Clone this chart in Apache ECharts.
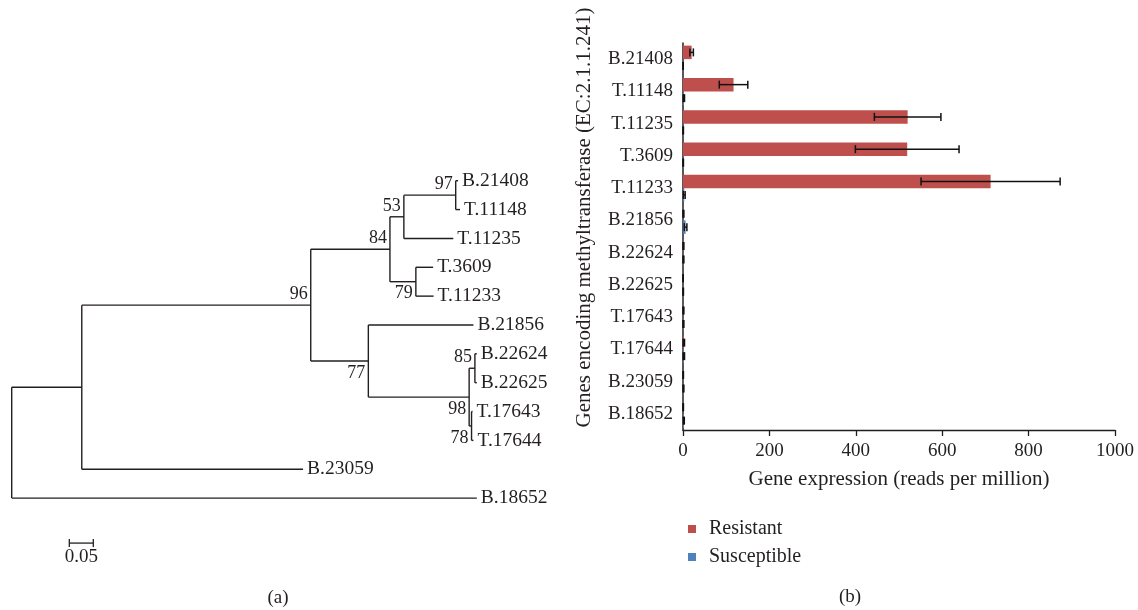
<!DOCTYPE html>
<html><head><meta charset="utf-8">
<script src="https://cdn.jsdelivr.net/npm/echarts@6/dist/echarts.min.js"></script>
<style>html,body{margin:0;padding:0;background:#fff}#c{width:1138px;height:610px}</style>
</head><body><div id="c"></div>
<script>
// ---------- DATA ----------
// (b) bar chart
const genes = ['B.21408','T.11148','T.11235','T.3609','T.11233','B.21856','B.22624','B.22625','T.17643','T.17644','B.23059','B.18652'];
const resistantMean = [20, 117, 520, 519, 712, 1, 1, 0.3, 1, 2, 0.5, 0.5];
const resistantErr  = [4, 33, 77, 120, 161, 1, 1, 0.3, 1, 1.5, 0.5, 0.5];
const susceptibleMean = [0.3, 2, 0.5, 0.5, 3, 6, 1, 0.5, 1, 2, 1, 2];
const susceptibleErr  = [0.3, 1.5, 0.5, 0.5, 2, 3, 1, 0.5, 1, 1.5, 1, 1];
const xTicks = [0, 200, 400, 600, 800, 1000];
const seriesNames = ['Resistant', 'Susceptible'];

// (a) phylogenetic tree, nodes in preorder
const nodeName   = ['root','n1','n96','n84','n53','n97','B.21408','T.11148','T.11235','n79','T.3609','T.11233','n77','B.21856','n98','n85','B.22624','B.22625','n78','T.17643','T.17644','B.23059','B.18652'];
const nodeParent = [-1, 0, 1, 2, 3, 4, 5, 5, 4, 3, 9, 9, 2, 12, 12, 14, 15, 15, 14, 18, 18, 1, 0];
const nodeBranch = [0, 0.146, 0.477, 0.165, 0.029, 0.108, 0.005, 0.009, 0.103, 0.054, 0.036, 0.037, 0.120, 0.219, 0.210, 0.012, 0.004, 0.004, 0.005, 0.002, 0.004, 0.461, 0.969];
const nodeSupport = [null, null, 96, 84, 53, 97, null, null, null, 79, null, null, 77, null, 98, 85, null, null, 78, null, null, null, null];
const scaleBarLength = 0.05;
const scaleBarLabel = '0.05';

// ---------- derived tree geometry ----------
const n = nodeName.length;
const children = nodeName.map(() => []);
nodeParent.forEach((p, i) => { if (p >= 0) children[p].push(i); });
const nodeX = new Array(n).fill(0);
for (let i = 0; i < n; i++) nodeX[i] = (nodeParent[i] >= 0 ? nodeX[nodeParent[i]] : 0) + nodeBranch[i];
const nodeY = new Array(n).fill(0);
let leafCounter = 0;
for (let i = 0; i < n; i++) if (children[i].length === 0) nodeY[i] = leafCounter++;
for (let i = n - 1; i >= 0; i--) {
  const c = children[i];
  if (c.length) nodeY[i] = (nodeY[c[0]] + nodeY[c[c.length - 1]]) / 2;
}
const treeData = nodeName.map((nm, i) => {
  const c = children[i];
  return [nodeX[i], nodeY[i], nodeParent[i] >= 0 ? nodeX[nodeParent[i]] : nodeX[i],
          c.length ? nodeY[c[0]] : nodeY[i], c.length ? nodeY[c[c.length - 1]] : nodeY[i],
          c.length ? 0 : 1, i];
});

// ---------- STYLE ----------
const SERIF = '"Liberation Serif", "DejaVu Serif", serif';
const INK = '#231f20';
const RED = '#BE4F4D';
const BLUE = '#4F81BD';
const BAR_W = 13.5;
const supportBelow = new Set(['n79', 'n77', 'n98', 'n78']);

function renderTree(params, api) {
  const x = api.value(0), y = api.value(1), px = api.value(2);
  const cy0 = api.value(3), cy1 = api.value(4), isLeaf = api.value(5) === 1;
  const idx = api.value(6);
  const p = api.coord([x, y]);
  const pp = api.coord([px, y]);
  const lineStyle = { stroke: INK, lineWidth: 1.4 };
  const els = [];
  if (nodeParent[idx] >= 0) {
    els.push({ type: 'line', shape: { x1: pp[0], y1: p[1], x2: p[0], y2: p[1] }, style: lineStyle });
  }
  if (!isLeaf) {
    const a = api.coord([x, cy0]), b = api.coord([x, cy1]);
    els.push({ type: 'line', shape: { x1: p[0], y1: a[1], x2: p[0], y2: b[1] }, style: lineStyle });
  } else {
    els.push({ type: 'text', x: p[0] + 4, y: p[1],
      style: { text: nodeName[idx], font: '19.5px ' + SERIF, fill: INK, align: 'left', verticalAlign: 'middle' } });
  }
  if (nodeSupport[idx] != null) {
    const below = supportBelow.has(nodeName[idx]);
    els.push({ type: 'text', x: p[0] - 3, y: p[1] + (below ? 12 : -11),
      style: { text: String(nodeSupport[idx]), font: '18px ' + SERIF, fill: INK, align: 'right', verticalAlign: 'middle' } });
  }
  return { type: 'group', children: els };
}

function renderScale(params, api) {
  const x = api.value(0), y = api.value(1), len = api.value(2);
  const a = api.coord([x, y]), b = api.coord([x + len, y]);
  const st = { stroke: INK, lineWidth: 1.3 };
  return { type: 'group', children: [
    { type: 'line', shape: { x1: a[0], y1: a[1], x2: b[0], y2: b[1] }, style: st },
    { type: 'line', shape: { x1: a[0], y1: a[1] - 4, x2: a[0], y2: a[1] + 4 }, style: st },
    { type: 'line', shape: { x1: b[0], y1: b[1] - 4, x2: b[0], y2: b[1] + 4 }, style: st },
    { type: 'text', x: (a[0] + b[0]) / 2, y: a[1] + 14,
      style: { text: scaleBarLabel, font: '19px ' + SERIF, fill: INK, align: 'center', verticalAlign: 'middle' } }
  ]};
}

function makeErr(sign) {
  return function (params, api) {
    const v = api.value(0), c = api.value(1), e = api.value(2);
    const ctr = api.coord([v, c]);
    const y = ctr[1] + sign * BAR_W / 2;
    const lo = api.coord([v - e, c])[0], hi = api.coord([v + e, c])[0];
    const st = { stroke: '#111', lineWidth: 1.5 };
    return { type: 'group', children: [
      { type: 'line', shape: { x1: lo, y1: y, x2: hi, y2: y }, style: st },
      { type: 'line', shape: { x1: lo, y1: y - 4, x2: lo, y2: y + 4 }, style: st },
      { type: 'line', shape: { x1: hi, y1: y - 4, x2: hi, y2: y + 4 }, style: st }
    ]};
  };
}

const chart = echarts.init(document.getElementById('c'), null, { renderer: 'canvas' });
chart.setOption({
  backgroundColor: '#ffffff',
  animation: false,
  textStyle: { fontFamily: SERIF, color: INK },
  grid: [
    { left: 11.7, top: 166.3, width: 480, height: 346.2 },
    { left: 683, top: 43, width: 432, height: 387 }
  ],
  xAxis: [
    { gridIndex: 0, type: 'value', min: 0, max: 1, show: false },
    { gridIndex: 1, type: 'value', min: xTicks[0], max: xTicks[xTicks.length - 1], interval: xTicks[1] - xTicks[0],
      splitLine: { show: false },
      axisLine: { show: true, lineStyle: { color: INK, width: 1.3 } },
      axisTick: { show: true, length: 6, lineStyle: { color: INK, width: 1.3 } },
      axisLabel: { fontSize: 19, fontFamily: SERIF, color: INK, margin: 12, formatter: v => String(v) },
      name: 'Gene expression (reads per million)', nameLocation: 'middle', nameGap: 39,
      nameTextStyle: { fontSize: 21, fontFamily: SERIF, color: INK } }
  ],
  yAxis: [
    { gridIndex: 0, type: 'value', min: -0.5, max: 11.5, inverse: true, show: false },
    { gridIndex: 1, type: 'category', data: genes, inverse: true,
      axisLine: { show: true, lineStyle: { color: INK, width: 1.5 } },
      axisTick: { show: false },
      axisLabel: { fontSize: 19, fontFamily: SERIF, color: INK, margin: 10 },
      name: 'Genes encoding methyltransferase (EC:2.1.1.241)', nameLocation: 'middle', nameRotate: 90, nameGap: 88,
      nameTextStyle: { fontSize: 21, fontFamily: SERIF, color: INK, padding: [0, 0, 0, 38] } }
  ],
  legend: {
    orient: 'vertical', left: 683, top: 514, itemWidth: 8, itemHeight: 8, itemGap: 8,
    icon: 'rect', data: seriesNames,
    textStyle: { fontSize: 20, fontFamily: SERIF, color: INK, padding: [0, 0, 0, 8] }
  },
  graphic: [
    { type: 'text', x: 278, y: 598, style: { text: '(a)', font: '19px ' + SERIF, fill: INK, align: 'center', verticalAlign: 'middle' } },
    { type: 'text', x: 850, y: 597, style: { text: '(b)', font: '19px ' + SERIF, fill: INK, align: 'center', verticalAlign: 'middle' } }
  ],
  series: [
    { type: 'custom', name: 'tree', xAxisIndex: 0, yAxisIndex: 0, renderItem: renderTree,
      data: treeData, encode: { x: 0, y: 1 }, clip: false, silent: true },
    { type: 'custom', name: 'scale', xAxisIndex: 0, yAxisIndex: 0, renderItem: renderScale,
      data: [[0.12, 12.56, scaleBarLength]], encode: { x: 0, y: 1 }, clip: false, silent: true },
    { type: 'bar', name: seriesNames[0], xAxisIndex: 1, yAxisIndex: 1, data: resistantMean,
      barWidth: BAR_W, barGap: '0%', itemStyle: { color: RED } },
    { type: 'bar', name: seriesNames[1], xAxisIndex: 1, yAxisIndex: 1, data: susceptibleMean,
      barWidth: BAR_W, barGap: '0%', itemStyle: { color: BLUE } },
    { type: 'custom', name: 'errR', xAxisIndex: 1, yAxisIndex: 1, renderItem: makeErr(-1), z: 5,
      data: genes.map((g, i) => [resistantMean[i], i, resistantErr[i]]), encode: { x: 0, y: 1 }, clip: false, silent: true },
    { type: 'custom', name: 'errS', xAxisIndex: 1, yAxisIndex: 1, renderItem: makeErr(1), z: 5,
      data: genes.map((g, i) => [susceptibleMean[i], i, susceptibleErr[i]]), encode: { x: 0, y: 1 }, clip: false, silent: true }
  ]
});
</script>
</body></html>
